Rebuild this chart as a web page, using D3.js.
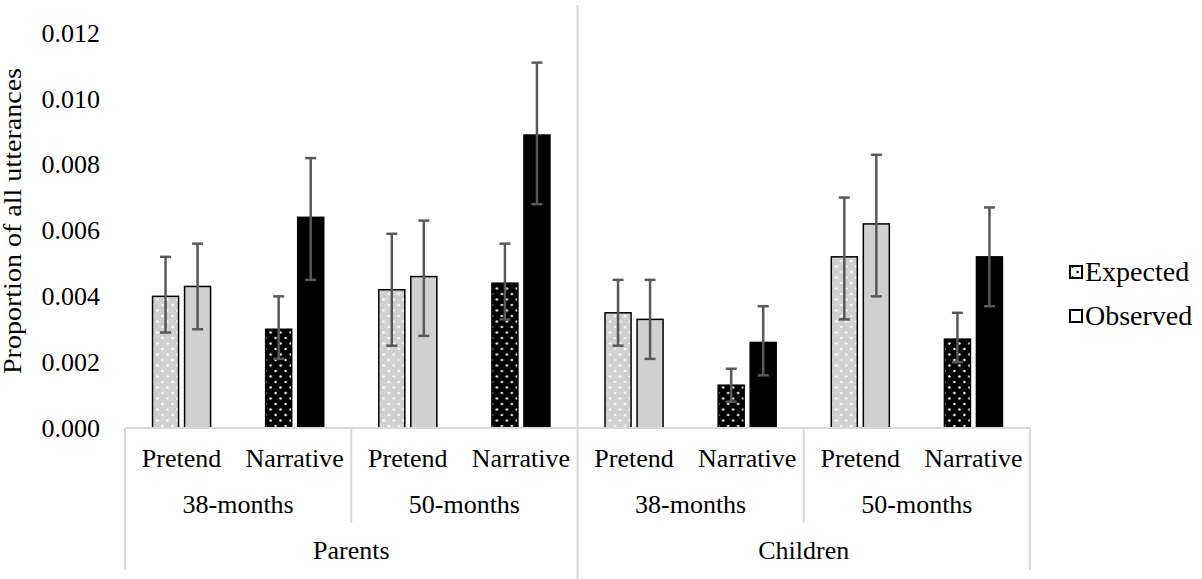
<!DOCTYPE html>
<html lang="en">
<head>
<meta charset="utf-8">
<title>Proportion of all utterances</title>
<script src="https://cdn.jsdelivr.net/npm/d3@7"></script>
<style>
  body { margin: 0; background: #fff; }
</style>
</head>
<body>
<svg id="chart" width="1202" height="579"></svg>
<script>
  // categories
  var groups = ["Parents", "Children"];
  var ages = ["38-months", "50-months"];
  var types = ["Pretend", "Narrative"];
  var series = ["Expected", "Observed"];
  var yTicks = [0, 0.002, 0.004, 0.006, 0.008, 0.010, 0.012];

  // values, order: Parents/38 Pretend, Narrative, Parents/50 ..., Children/38 ..., Children/50 ...
  var expected   = [0.0040, 0.0030, 0.0042, 0.0044, 0.0035, 0.0013, 0.0052, 0.0027];
  var expectedLo = [0.0029, 0.0021, 0.0025, 0.0033, 0.0025, 0.0008, 0.0033, 0.0020];
  var expectedHi = [0.0052, 0.0040, 0.0059, 0.0056, 0.0045, 0.0018, 0.0070, 0.0035];
  var observed   = [0.0043, 0.0064, 0.0046, 0.0089, 0.0033, 0.0026, 0.0062, 0.0052];
  var observedLo = [0.0030, 0.0045, 0.0028, 0.0068, 0.0021, 0.0016, 0.0040, 0.0037];
  var observedHi = [0.0056, 0.0082, 0.0063, 0.0111, 0.0045, 0.0037, 0.0083, 0.0067];

  var FONT = "'Liberation Serif', 'Times New Roman', serif";

  var margin = { top: 33, left: 125, right: 172, bottom: 151 },
    W = 1202, H = 579,
    x0 = margin.left, x1 = W - margin.right,
    yBase = H - margin.bottom;

  var svg = d3.select("#chart");

  // serif text, styled inline on each element
  function label(sel, size) {
    return sel.style("font-family", FONT).style("font-size", size + "px").style("fill", "#000");
  }

  var defs = svg.append("defs");
  function dots(id, bg, dot) {
    var p = defs.append("pattern").attr("id", id)
      .attr("patternUnits", "userSpaceOnUse").attr("width", 10).attr("height", 11);
    p.append("rect").attr("width", 10).attr("height", 11).attr("fill", bg);
    p.append("circle").attr("cx", 2.5).attr("cy", 2.5).attr("r", 1.2).attr("fill", dot);
    p.append("circle").attr("cx", 7.5).attr("cy", 8).attr("r", 1.2).attr("fill", dot);
  }
  dots("dotsLight", "#d0d0d0", "#fff");
  dots("dotsDark", "#000", "#fff");
  dots("dotsLegend", "#fff", "#000");

  // build rows
  var rows = [];
  groups.forEach(function(g) {
    ages.forEach(function(a) {
      types.forEach(function(t) {
        rows.push({ key: g + "|" + a + "|" + t, group: g, age: a, type: t });
      });
    });
  });
  rows.forEach(function(r, i) {
    r.values = [
      { s: "Expected", v: expected[i], lo: expectedLo[i], hi: expectedHi[i] },
      { s: "Observed", v: observed[i], lo: observedLo[i], hi: observedHi[i] }
    ];
  });

  var x = d3.scaleBand().domain(rows.map(function(r) { return r.key; })).range([x0, x1]);
  var xs = d3.scaleBand().domain(series).range([0, x.bandwidth()])
    .paddingInner(0.1875).paddingOuter(0.86);
  var y = d3.scaleLinear().domain([0, 0.012]).range([yBase, margin.top]);

  // y axis labels
  var yAxis = d3.axisLeft(y).tickValues(yTicks).tickFormat(d3.format(".3f")).tickSize(0).tickPadding(25);
  var ya = svg.append("g").attr("transform", "translate(" + x0 + ",0)").call(yAxis);
  ya.select(".domain").remove();
  label(ya.selectAll("text"), 26);

  label(svg.append("text"), 25)
    .attr("transform", "translate(21,221) rotate(-90)")
    .attr("text-anchor", "middle")
    .attr("textLength", 306).attr("lengthAdjust", "spacingAndGlyphs")
    .text("Proportion of all utterances");

  // bars
  var cat = svg.append("g").selectAll("g").data(rows).enter().append("g")
    .attr("transform", function(r) { return "translate(" + x(r.key) + ",0)"; });

  function fill(r, d) {
    if (r.type === "Pretend") return d.s === "Expected" ? "url(#dotsLight)" : "#d0d0d0";
    return d.s === "Expected" ? "url(#dotsDark)" : "#000";
  }

  cat.selectAll("rect").data(function(r) { return r.values.map(function(d) { return { r: r, d: d }; }); })
    .enter().append("rect")
    .attr("x", function(o) { return xs(o.d.s); })
    .attr("width", xs.bandwidth())
    .attr("y", function(o) { return y(o.d.v); })
    .attr("height", function(o) { return yBase - y(o.d.v); })
    .attr("fill", function(o) { return fill(o.r, o.d); })
    .attr("stroke", "#000").attr("stroke-width", 1.5);

  // error bars
  var eb = cat.selectAll("g.err").data(function(r) { return r.values; })
    .enter().append("g").attr("class", "err")
    .attr("transform", function(d) { return "translate(" + (xs(d.s) + xs.bandwidth() / 2) + ",0)"; });
  eb.append("line").attr("y1", function(d) { return y(d.lo); }).attr("y2", function(d) { return y(d.hi); });
  eb.append("line").attr("x1", -5.5).attr("x2", 5.5).attr("y1", function(d) { return y(d.hi); }).attr("y2", function(d) { return y(d.hi); });
  eb.append("line").attr("x1", -5.5).attr("x2", 5.5).attr("y1", function(d) { return y(d.lo); }).attr("y2", function(d) { return y(d.lo); });
  eb.selectAll("line").attr("stroke", "#595959").attr("stroke-width", 2.5);

  // category axis lines
  var grid = svg.append("g").attr("stroke", "#d9d9d9").attr("stroke-width", 2);
  grid.append("line").attr("x1", x0).attr("x2", x1).attr("y1", yBase).attr("y2", yBase);
  var ageStarts = rows.filter(function(r) { return r.type === types[0]; });
  var groupStarts = ageStarts.filter(function(r) { return r.age === ages[0]; });
  ageStarts.filter(function(r) { return r.age !== ages[0]; }).forEach(function(r) {
    grid.append("line").attr("x1", x(r.key)).attr("x2", x(r.key)).attr("y1", yBase).attr("y2", yBase + 95);
  });
  groupStarts.forEach(function(r, i) {
    var top = i === 0 ? yBase : 5;
    grid.append("line").attr("x1", x(r.key)).attr("x2", x(r.key)).attr("y1", top).attr("y2", i === 0 ? yBase + 142 : H);
  });
  grid.append("line").attr("x1", x1).attr("x2", x1).attr("y1", yBase).attr("y2", yBase + 142);

  // category labels
  rows.forEach(function(r) {
    label(svg.append("text"), 26).attr("text-anchor", "middle")
      .attr("x", x(r.key) + x.bandwidth() / 2).attr("y", yBase + 39).text(r.type);
  });
  ageStarts.forEach(function(r) {
    label(svg.append("text"), 26).attr("text-anchor", "middle")
      .attr("x", x(r.key) + x.bandwidth()).attr("y", yBase + 85).text(r.age);
  });
  groupStarts.forEach(function(r) {
    label(svg.append("text"), 26).attr("text-anchor", "middle")
      .attr("x", x(r.key) + x.bandwidth() * 2).attr("y", yBase + 131).text(r.group);
  });

  // legend
  series.forEach(function(s, i) {
    var yy = 272 + i * 44;
    svg.append("rect").attr("x", 1070).attr("y", yy - 6).attr("width", 12).attr("height", 12)
      .attr("fill", s === "Expected" ? "url(#dotsLegend)" : "#fff")
      .attr("stroke", "#000").attr("stroke-width", 2);
    label(svg.append("text"), 28).attr("x", 1085).attr("y", yy + 9).text(s);
  });
</script>
</body>
</html>
